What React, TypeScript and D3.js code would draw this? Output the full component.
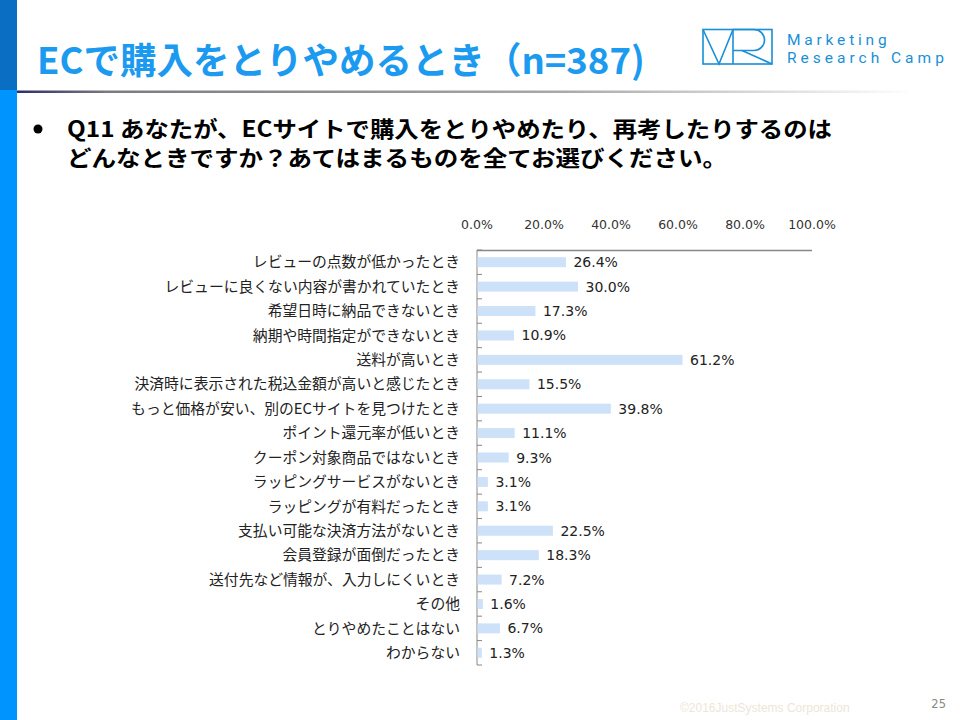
import React from "react";
import * as d3 from "d3";

const categories = [
  "レビューの点数が低かったとき",
  "レビューに良くない内容が書かれていたとき",
  "希望日時に納品できないとき",
  "納期や時間指定ができないとき",
  "送料が高いとき",
  "決済時に表示された税込金額が高いと感じたとき",
  "もっと価格が安い、別のECサイトを見つけたとき",
  "ポイント還元率が低いとき",
  "クーポン対象商品ではないとき",
  "ラッピングサービスがないとき",
  "ラッピングが有料だったとき",
  "支払い可能な決済方法がないとき",
  "会員登録が面倒だったとき",
  "送付先など情報が、入力しにくいとき",
  "その他",
  "とりやめたことはない",
  "わからない",
];
const values = [26.4, 30.0, 17.3, 10.9, 61.2, 15.5, 39.8, 11.1, 9.3, 3.1, 3.1, 22.5, 18.3, 7.2, 1.6, 6.7, 1.3];
const tickValues = [0, 20, 40, 60, 80, 100];

const title = "ECで購入をとりやめるとき（n=387)";
const question1 = "Q11 あなたが、ECサイトで購入をとりやめたり、再考したりするのは";
const question2 = "どんなときですか？あてはまるものを全てお選びください。";

export default function App() {
  const W = 960, H = 720;
  const x = d3.scaleLinear().domain([0, 100]).range([477, 812]);
  const y = d3.scaleBand<string>().domain(categories).range([250, 665]).paddingInner(0).paddingOuter(0);
  const bw = y.bandwidth();
  const barH = 10;
  const jp = "'Noto Sans CJK JP', 'Noto Sans', sans-serif";
  const num = "'DejaVu Sans', Verdana, sans-serif";
  const boundaries = categories.map((_, i) => 250 + i * bw).concat([665]);

  return (
    <svg width={W} height={H} style={{ position: "absolute", left: 0, top: 0, display: "block" }}>
      <defs>
        <linearGradient id="rule" x1="0" x2="1" y1="0" y2="0">
          <stop offset="0" stopColor="#2d2d6b" />
          <stop offset="0.1" stopColor="#7a7a80" />
          <stop offset="0.6" stopColor="#a8a8a8" />
          <stop offset="1" stopColor="#ffffff" />
        </linearGradient>
      </defs>
      <rect x={0} y={0} width={W} height={H} fill="#ffffff" />
      <rect x={0} y={0} width={17} height={90} fill="#0a6ec2" />
      <rect x={0} y={90} width={17} height={630} fill="#0094fe" />
      <rect x={17} y={90.5} width={900} height={2.5} fill="url(#rule)" />

      <text x={37} y={74} fill="#1b9af0" fontFamily={jp} fontWeight="bold" fontSize={36.5}>{title}</text>

      {/* logo */}
      <g stroke="#1a8fd6" strokeWidth={1.6} fill="none">
        <rect x={703} y={29.5} width={69} height={34.5} />
        <polyline points="703,29.5 719,64 733,29.5" />
        <line x1={733} y1={29.5} x2={733} y2={64} />
        <path d="M733,29.5 H754 A10.5,10.5 0 0 1 754,50.5 H733" />
        <line x1={742} y1={50.5} x2={772} y2={64} />
      </g>
      <text x={787} y={45} fill="#1a8fd6" fontFamily="Roboto, 'Noto Sans', sans-serif" fontSize={15.5} letterSpacing={3.8}>Marketing</text>
      <text x={787} y={63} fill="#1a8fd6" fontFamily="Roboto, 'Noto Sans', sans-serif" fontSize={15.5} letterSpacing={4}>Research Camp</text>

      {/* question */}
      <circle cx={38} cy={129} r={4.5} fill="#000" />
      <text x={67} y={137} fill="#000" fontFamily={jp} fontWeight="bold" fontSize={22} textLength={765} lengthAdjust="spacingAndGlyphs">{question1}</text>
      <text x={67} y={166} fill="#000" fontFamily={jp} fontWeight="bold" fontSize={22} textLength={660} lengthAdjust="spacingAndGlyphs">{question2}</text>

      {/* ticks top */}
      {tickValues.map((t) => (
        <text key={t} x={x(t)} y={229} textAnchor="middle" fill="#333" fontFamily={num} fontSize={12.5}>
          {t.toFixed(1) + "%"}
        </text>
      ))}

      {/* axes */}
      <line x1={477} y1={250.5} x2={812} y2={250.5} stroke="#888" strokeWidth={1.5} />
      <line x1={477} y1={250} x2={477} y2={665} stroke="#888" strokeWidth={1} />
      {boundaries.map((b, i) => (
        <line key={i} x1={477} x2={482} y1={b} y2={b} stroke="#888" strokeWidth={1} />
      ))}

      {categories.map((c, i) => {
        const cy = (y(c) as number) + bw / 2;
        return (
          <g key={c}>
            <rect x={x(0) + 0.5} y={cy - barH / 2} width={x(values[i]) - x(0)} height={barH} fill="#cde1f8" />
            <text x={460} y={cy} dy="0.35em" textAnchor="end" fill="#222" fontFamily={jp} fontSize={14.8}>{c}</text>
            <text x={x(values[i]) + 8} y={cy} dy="0.36em" fill="#222" fontFamily={num} fontSize={14}>
              {values[i].toFixed(1) + "%"}
            </text>
          </g>
        );
      })}

      <text x={680} y={712} fill="#ede6d8" fontFamily="'Liberation Sans', Arial, sans-serif" fontSize={12}>©2016JustSystems Corporation</text>
      <text x={946} y={708} textAnchor="end" fill="#888" fontFamily={num} fontSize={11.5}>25</text>
    </svg>
  );
}
